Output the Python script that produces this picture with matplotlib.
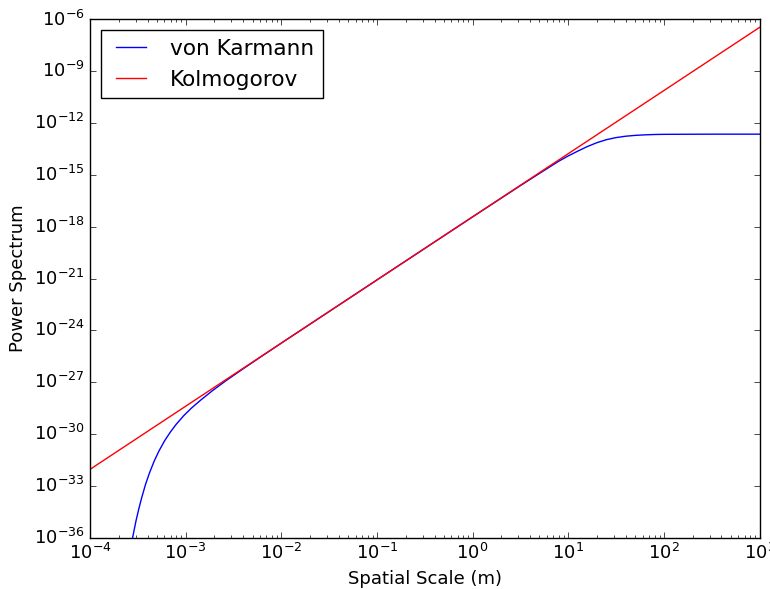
import matplotlib
matplotlib.use("Agg")
import matplotlib.pyplot as plt
from matplotlib.ticker import NullLocator

plt.style.use("classic")
plt.rcParams["font.size"] = 13
plt.rcParams["axes.unicode_minus"] = False

# Spatial scale (m) and phase power spectra
kolmo_scale = [1e-4, 1e3]
kolmo_power = [8.91e-33, 3.48e-7]

vk_scale = [2.69e-4, 2.82e-4, 3.02e-4, 3.24e-4, 3.47e-4, 3.80e-4, 4.17e-4,
            4.68e-4, 5.25e-4, 6.03e-4, 6.92e-4, 7.94e-4, 9.55e-4, 1.15e-3,
            1.45e-3, 1.91e-3, 2.63e-3, 3.98e-3, 6.31e-3, 1e-2, 0.1, 1.0,
            3.16, 5.01, 7.94, 10.0, 12.6, 15.8, 20.0, 25.1, 31.6, 39.8,
            50.1, 63.1, 79.4, 100.0, 316.0, 1000.0]
vk_power = [3.39e-37, 1.35e-36, 8.91e-36, 4.68e-35, 2.04e-34, 1.17e-33,
            5.25e-33, 2.63e-32, 1.02e-31, 4.07e-31, 1.29e-30, 3.55e-30,
            1.15e-29, 3.16e-29, 9.55e-29, 3.24e-28, 1.20e-27, 5.89e-27,
            3.31e-26, 1.82e-25, 8.32e-22, 3.72e-18, 2.40e-16, 1.23e-15,
            6.17e-15, 1.26e-14, 2.40e-14, 4.37e-14, 7.41e-14, 1.10e-13,
            1.45e-13, 1.74e-13, 1.95e-13, 2.09e-13, 2.19e-13, 2.24e-13,
            2.29e-13, 2.29e-13]

y_ticks = [10.0 ** e for e in range(-36, -5, 3)]

fig = plt.figure(figsize=(7.7, 5.89), dpi=100, facecolor="white")
ax = fig.add_subplot(111)
fig.subplots_adjust(left=0.1169, right=0.9864, top=0.9669, bottom=0.0873)

ax.loglog(vk_scale, vk_power, "b-", label="von Karmann")
ax.loglog(kolmo_scale, kolmo_power, "r-", label="Kolmogorov")

ax.set_xlim(1e-4, 1e3)
ax.set_ylim(1e-36, 1e-6)
ax.set_yticks(y_ticks)
ax.yaxis.set_minor_locator(NullLocator())

ax.set_xlabel("Spatial Scale (m)")
ax.set_ylabel("Power Spectrum")
ax.legend(loc="upper left")

fig.savefig("out.png", dpi=100, facecolor="white")
